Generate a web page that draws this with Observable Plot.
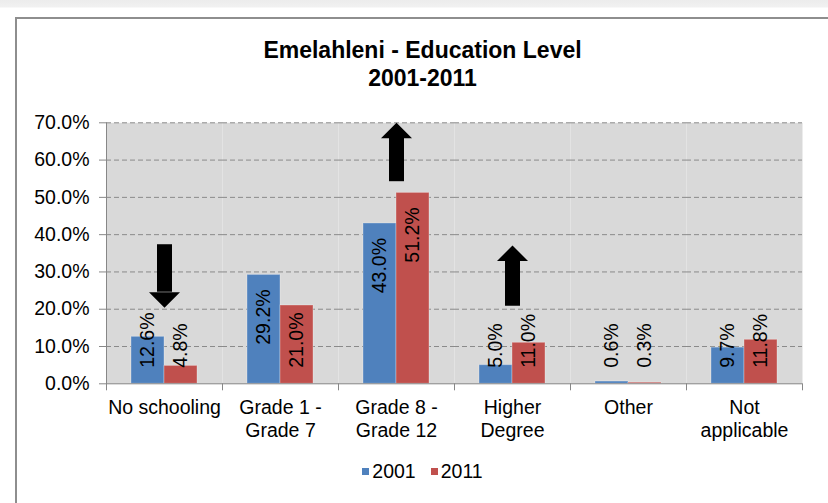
<!DOCTYPE html>
<html><head><meta charset="utf-8">
<script src="https://cdn.jsdelivr.net/npm/d3@7"></script>
<script src="https://cdn.jsdelivr.net/npm/@observablehq/plot@0.6"></script>
<style>
html,body{margin:0;padding:0;}
body{width:828px;height:503px;overflow:hidden;position:relative;background:linear-gradient(#ececec 0,#f1f1f1 7px,#fff 8px);font-family:"Liberation Sans",Arial,sans-serif;color:#000;}
#area{position:absolute;left:15px;top:17px;right:-4px;bottom:-4px;border-left:2px solid #8e8e8e;border-top:2px solid #8e8e8e;background:#fff;}
#title{position:absolute;left:17px;width:811px;top:36px;text-align:center;font-weight:bold;font-size:23px;line-height:28px;}
#chart{position:absolute;left:0;top:100px;}
#legend{position:absolute;left:17px;width:811px;top:459px;display:flex;justify-content:center;align-items:center;font-size:19.5px;line-height:24px;}
#legend .sw{display:inline-block;width:7px;height:7px;margin-right:3px;}
#legend .lb{margin-right:15px;}
#legend .lb:last-child{margin-right:0;}
</style>
</head><body>
<div id="area"></div>
<div id="title">Emelahleni - Education Level<br>2001-2011</div>
<div id="chart"></div>
<div id="legend"></div>
<script>
// ---- data ----
const categories = ["No schooling", "Grade 1 -\nGrade 7", "Grade 8 -\nGrade 12", "Higher\nDegree", "Other", "Not\napplicable"];
const years = ["2001", "2011"];
const values2001 = [12.6, 29.2, 43.0, 5.0, 0.6, 9.7];
const values2011 = [4.8, 21.0, 51.2, 11.0, 0.3, 11.8];
const yTicks = [0, 10, 20, 30, 40, 50, 60, 70];
const colors = ["#4f81bd", "#c0504d"];
// annotation arrows (percent units)
const arrowCats = ["No schooling", "Grade 8 -\nGrade 12", "Higher\nDegree"];
const arrowDirs = ["down", "up", "up"];
const arrowTails = [37.3, 54.2, 20.8];
const arrowTips = [20.4, 70.0, 37.1];

const rows = [];
categories.forEach((c, i) => {
  rows.push({cat: c, year: years[0], value: values2001[i]});
  rows.push({cat: c, year: years[1], value: values2011[i]});
});
const arrows = arrowCats.map((c, i) => ({cat: c, dir: arrowDirs[i], tail: arrowTails[i], tip: arrowTips[i]}));
const upArrows = arrows.filter(d => d.dir === "up");
const downArrows = arrows.filter(d => d.dir === "down");

// ---- layout ----
const W = 828, H = 350, MT = 22.3, MB = 66.7, ML = 104, MR = 25;
const plotH = H - MT - MB;
const axisColor = "#878787";
const headLen = 15.5;
const FS = 19.5;
const fmt = d => d.toFixed(1) + "%";
const upHead = {draw(ctx, size) { const r = Math.sqrt(size / Math.PI); ctx.moveTo(0, 0); ctx.lineTo(r, r); ctx.lineTo(-r, r); ctx.closePath(); }};
const downHead = {draw(ctx, size) { const r = Math.sqrt(size / Math.PI); ctx.moveTo(0, 0); ctx.lineTo(r, -r); ctx.lineTo(-r, -r); ctx.closePath(); }};

const plot = Plot.plot({
  width: W, height: H,
  marginTop: MT, marginBottom: MB, marginLeft: ML, marginRight: MR,
  style: {background: "transparent", fontFamily: "Liberation Sans, Arial, sans-serif", fontSize: FS + "px", color: "#000", overflow: "visible"},
  fx: {domain: categories, padding: 0, label: null},
  x: {domain: years, paddingInner: 0, paddingOuter: 0.75, axis: null},
  y: {domain: [0, 70], label: null},
  color: {domain: years, range: colors},
  marks: [
    Plot.frame({fill: "#d9d9d9", stroke: "none"}),
    Plot.gridY(yTicks.filter(d => d > 0), {stroke: "#8a8a8a", strokeOpacity: 1, strokeDasharray: "5,3"}),
    Plot.barY(rows, {fx: "cat", x: "year", y: "value", fill: "year", stroke: "#ffffff", strokeOpacity: 0.3, strokeWidth: 1}),
    Plot.ruleY([0], {stroke: axisColor}),
    Plot.frame({anchor: "left", facetAnchor: "left", stroke: axisColor}),
    Plot.frame({anchor: "left", stroke: axisColor, insetTop: plotH, insetBottom: -6}),
    Plot.frame({anchor: "right", facetAnchor: "right", stroke: axisColor, insetTop: plotH, insetBottom: -6}),
    Plot.axisY({ticks: yTicks, tickFormat: fmt, tickSize: 7, tickPadding: 10, stroke: axisColor, fill: "#000", label: null, fontSize: FS}),
    Plot.axisFx({anchor: "bottom", tickSize: 0, tickPadding: 14, lineHeight: 1.18, label: null, fontSize: FS, fill: "#000"}),
    Plot.text(rows.filter(d => d.value >= 23), {fx: "cat", x: "year", y: "value", text: d => fmt(d.value), rotate: -90, textAnchor: "end", dy: 14.5, fontSize: FS, fill: "#000"}),
    Plot.text(rows.filter(d => d.value < 23), {fx: "cat", x: "year", y: () => 0, text: d => fmt(d.value), rotate: -90, textAnchor: "start", dy: -16, fontSize: FS, fill: "#000"}),
    Plot.ruleX(upArrows, {fx: "cat", x: null, y1: "tip", y2: "tail", insetTop: headLen, stroke: "#000", strokeWidth: 15}),
    Plot.ruleX(downArrows, {fx: "cat", x: null, y1: "tail", y2: "tip", insetBottom: headLen, stroke: "#000", strokeWidth: 15}),
    Plot.dot(upArrows, {fx: "cat", y: "tip", symbol: upHead, r: headLen, fill: "#000", stroke: "none"}),
    Plot.dot(downArrows, {fx: "cat", y: "tip", symbol: downHead, r: headLen, fill: "#000", stroke: "none"})
  ]
});
document.getElementById("chart").appendChild(plot);

const color = plot.scale("color");
const leg = document.getElementById("legend");
years.forEach((y, i) => {
  const sw = document.createElement("span");
  sw.className = "sw";
  sw.style.background = color.range[i];
  const lb = document.createElement("span");
  lb.className = "lb";
  lb.textContent = y;
  leg.appendChild(sw);
  leg.appendChild(lb);
});
</script>
</body></html>
